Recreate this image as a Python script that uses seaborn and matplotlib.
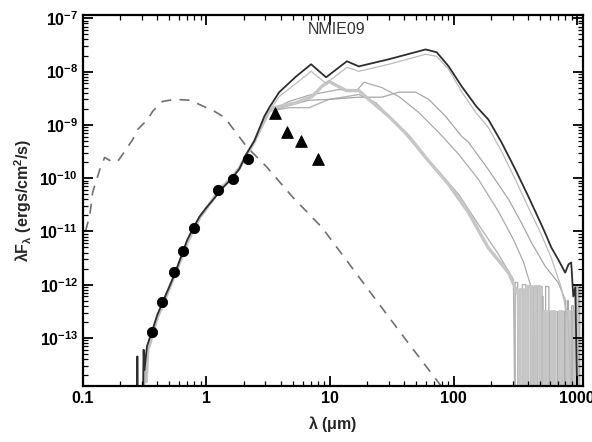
import numpy as np
import pandas as pd
import matplotlib
matplotlib.use("Agg")
import matplotlib.pyplot as plt
from matplotlib.ticker import LogLocator, NullFormatter
import seaborn as sns

# optical / near-IR photometry (circles) and IRAC photometry (triangles)
opt_lam = [0.36, 0.44, 0.55, 0.64, 0.79, 1.24, 1.63, 2.15]
opt_flux = [1.32e-13, 4.8e-13, 1.7e-12, 4.2e-12, 1.18e-11, 6.1e-11, 9.8e-11, 2.3e-10]
irac_lam = [3.6, 4.5, 5.8, 8.0]
irac_flux = [1.7e-9, 7.2e-10, 4.9e-10, 2.3e-10]

# stellar photosphere (dashed)
star_lam = [0.105, 0.114, 0.12, 0.137, 0.15, 0.171, 0.191, 0.21, 0.253, 0.278, 0.334,
            0.367, 0.442, 0.552, 0.73, 0.846, 1.16, 1.40, 2.14, 3.05, 4.94, 8.62,
            14.2, 24.8, 43.4, 75.7, 91.2]
star_flux = [1.0e-11, 2.07e-11, 5.4e-11, 1.45e-10, 2.44e-10, 2.05e-10, 2.05e-10, 2.8e-10,
             5.3e-10, 8.2e-10, 1.26e-9, 1.79e-9, 2.75e-9, 3.0e-9, 2.9e-9, 2.5e-9, 1.79e-9,
             1.38e-9, 3.76e-10, 1.65e-10, 4.5e-11, 1.18e-11, 2.5e-12, 4.4e-13, 7.8e-14,
             1.44e-14, 8e-15]

# best fitting model (dark line)
best_lam = [0.272, 0.276, 0.28, 0.305, 0.31, 0.315, 0.33, 0.36, 0.40, 0.45, 0.50, 0.56,
            0.63, 0.70, 0.785, 0.88, 1.0, 1.16, 1.32, 1.62, 1.85, 2.1, 2.44, 2.94, 3.22,
            3.88, 5.32, 7.03, 9.29, 13.7, 17.1, 29.9, 59.4, 73, 91.2, 116, 153, 191, 244,
            316, 403, 513, 560, 617, 703, 800, 850, 895, 930, 964, 1019]
best_flux = [1e-15, 4.5e-14, 1e-15, 1e-15, 6e-14, 2.5e-14, 7e-14, 1.26e-13, 2.7e-13,
             5.2e-13, 9.1e-13, 1.7e-12, 3.6e-12, 7.0e-12, 1.18e-11, 1.9e-11, 2.8e-11,
             4.2e-11, 6.2e-11, 1.0e-10, 1.5e-10, 2.8e-10, 5.0e-10, 1.44e-9, 2.1e-9,
             4.1e-9, 8.1e-9, 1.37e-8, 7.8e-9, 1.56e-8, 1.25e-8, 1.7e-8, 2.6e-8, 2.3e-8,
             1.25e-8, 5.3e-9, 2.2e-9, 1.26e-9, 4.7e-10, 1.45e-10, 4.5e-11, 1.34e-11,
             8.5e-12, 5.0e-12, 2.95e-12, 1.68e-12, 2.4e-12, 2.6e-12, 6.0e-13, 9e-13, 1e-15]

# optical rise shared by the other models
rise_lam = [0.30, 0.315, 0.325, 0.335, 0.35, 0.37, 0.40, 0.45, 0.50, 0.56, 0.63, 0.70,
            0.785, 0.88, 1.0, 1.16, 1.32, 1.62, 1.85, 2.1, 2.44, 2.83, 3.22]
rise_flux = [1e-15, 5e-14, 1.5e-14, 6e-14, 8e-14, 1.3e-13, 2.4e-13, 4.6e-13, 8.5e-13,
             1.6e-12, 3.3e-12, 6.2e-12, 1.05e-11, 1.8e-11, 2.7e-11, 4.4e-11, 6.5e-11,
             1.05e-10, 1.55e-10, 2.7e-10, 4.8e-10, 1.0e-9, 1.8e-9]

# infrared parts of the other models
m2_lam = [3.88, 5.32, 7.03, 9.29, 13.7, 17.1, 29.9, 59.4, 73, 91.2, 116, 153, 191, 244,
          316, 403, 513, 617, 743, 846, 929]
m2_flux = [3.4e-9, 6.0e-9, 1.01e-8, 6.0e-9, 1.2e-8, 1.01e-8, 1.37e-8, 2.11e-8, 1.93e-8,
           1.1e-8, 4.2e-9, 1.64e-9, 8.9e-10, 3.2e-10, 9.4e-11, 2.8e-11, 8.7e-12, 3.2e-12,
           8.8e-13, 2.2e-13, 1e-15]

m3_lam = [4.67, 6.77, 11.8, 16.2, 18.8, 26.3, 36.0, 52.2, 75.7, 110, 159, 231, 305, 367, 418]
m3_flux = [2.75e-9, 3.6e-9, 4.6e-9, 4.2e-9, 6.3e-9, 5.0e-9, 3.4e-9, 1.71e-9, 7.2e-10,
           2.8e-10, 9.4e-11, 2.35e-11, 7.0e-12, 2.7e-12, 1.0e-12]

m4_lam = [4.67, 6.77, 9.82, 17.1, 26.3, 36.0, 49.4, 62.9, 86.2, 116, 132, 191, 278, 353,
          426, 552, 703, 800]
m4_flux = [2.3e-9, 2.9e-9, 3.0e-9, 3.3e-9, 3.3e-9, 4.1e-9, 4.1e-9, 3.0e-9, 1.44e-9,
           6.1e-10, 4.7e-10, 1.45e-10, 4.0e-11, 1.46e-11, 6.2e-12, 2.2e-12, 1.09e-12, 5.2e-13]

m5_lam = [3.54, 5.32, 7.16, 8.62, 9.82, 13.5, 17.1, 20.6, 29.9, 43.4, 59.4, 91.2, 132,
          191, 278, 334]
m5_flux = [2.1e-9, 2.6e-9, 3.4e-9, 5.3e-9, 6.5e-9, 4.4e-9, 4.4e-9, 3.0e-9, 1.44e-9,
           6.1e-10, 2.44e-10, 7.6e-11, 2.25e-11, 4.9e-12, 1.68e-12, 6.5e-13]

m6_lam = [4.67, 6.77, 9.82, 17.1, 23.5, 36.0, 52.2, 75.7, 110, 159, 231, 305]
m6_flux = [2.1e-9, 2.1e-9, 3.0e-9, 3.7e-9, 2.6e-9, 9.3e-10, 3.45e-10, 1.33e-10, 4.9e-11,
           1.34e-11, 3.7e-12, 1.24e-12]

# noisy far-IR ends: each tooth goes up at lo, stays at height, comes down at hi
m5_tooth_lo = [345, 400, 460, 540, 620, 720, 830, 950]
m5_tooth_hi = [370, 430, 500, 570, 660, 760, 870, 1000]
m5_tooth_h = [8e-13, 9.2e-13, 9.2e-13, 3.1e-13, 3.1e-13, 3.1e-13, 3.1e-13, 3.1e-13]
m3_tooth_lo = [425, 480, 555, 640, 740, 850, 990]
m3_tooth_hi = [445, 520, 590, 690, 790, 900, 1050]
m3_tooth_h = [9e-13, 9.2e-13, 9.2e-13, 3.1e-13, 3.1e-13, 3.1e-13, 1.0e-12]
m6_tooth_lo = [315, 360, 430, 510, 600, 700, 800, 920]
m6_tooth_hi = [330, 385, 450, 530, 615, 720, 815, 940]
m6_tooth_h = [1.1e-12, 1.0e-12, 9.2e-13, 6e-13, 3.1e-13, 3.1e-13, 3.1e-13, 3.1e-13]
m4_tooth_lo = [830, 900, 980]
m4_tooth_hi = [850, 930, 1020]
m4_tooth_h = [5e-13, 4e-13, 9e-13]

floor = 1e-15

x_ticks = [0.1, 1, 10, 100, 1000]
x_ticklabels = ["0.1", "1", "10", "100", "1000"]
y_ticks = [1e-13, 1e-12, 1e-11, 1e-10, 1e-9, 1e-8, 1e-7]
y_ticklabels = [r"$10^{-13}$", r"$10^{-12}$", r"$10^{-11}$", r"$10^{-10}$",
                r"$10^{-9}$", r"$10^{-8}$", r"$10^{-7}$"]


def model_frame(lam, flux, lo=(), hi=(), h=()):
    xs = list(rise_lam) + list(lam)
    ys = list(rise_flux) + list(flux)
    for a, b, c in zip(lo, hi, h):
        xs += [a, a, b, b]
        ys += [floor, c, c, floor]
    return pd.DataFrame({"lam": xs, "flux": ys})


sns.set_style("white")
plt.rcParams["font.family"] = ["Liberation Sans", "DejaVu Sans"]
plt.rcParams["mathtext.fontset"] = "custom"
plt.rcParams["mathtext.rm"] = "Liberation Sans:bold"
plt.rcParams["mathtext.it"] = "Liberation Sans:bold"
plt.rcParams["mathtext.bf"] = "Liberation Sans:bold"
plt.rcParams["mathtext.default"] = "bf"
for a in ("xtick", "ytick"):
    plt.rcParams[a + ".direction"] = "in"
    plt.rcParams[a + ".color"] = "black"
    plt.rcParams[a + ".major.size"] = 7
    plt.rcParams[a + ".minor.size"] = 3.5
    plt.rcParams[a + ".major.width"] = 1.3
    plt.rcParams[a + ".minor.width"] = 0.9
    plt.rcParams[a + ".labelsize"] = 11.5
plt.rcParams["xtick.bottom"] = True
plt.rcParams["xtick.top"] = True
plt.rcParams["ytick.left"] = True
plt.rcParams["ytick.right"] = True

fig = plt.figure(figsize=(5.92, 4.42), dpi=100)
ax = fig.add_axes([0.140, 0.127, 0.845, 0.839])

models = [
    (model_frame(m6_lam, m6_flux, m6_tooth_lo, m6_tooth_hi, m6_tooth_h), "#b4b4b4", 1.0),
    (model_frame(m4_lam, m4_flux, m4_tooth_lo, m4_tooth_hi, m4_tooth_h), "#a6a6a6", 0.9),
    (model_frame(m3_lam, m3_flux, m3_tooth_lo, m3_tooth_hi, m3_tooth_h), "#ababab", 0.9),
    (model_frame(m5_lam, m5_flux, m5_tooth_lo, m5_tooth_hi, m5_tooth_h), "#c6c6c6", 2.4),
    (model_frame(m2_lam, m2_flux), "#bcbcbc", 0.9),
]
for df, col, lw in models:
    sns.lineplot(data=df, x="lam", y="flux", ax=ax, color=col, lw=lw,
                 sort=False, estimator=None)

best = pd.DataFrame({"lam": best_lam, "flux": best_flux})
sns.lineplot(data=best, x="lam", y="flux", ax=ax, color="#2e2e2e", lw=1.3,
             sort=False, estimator=None)

star = pd.DataFrame({"lam": star_lam, "flux": star_flux})
sns.lineplot(data=star, x="lam", y="flux", ax=ax, color="#707070", lw=1.2,
             sort=False, estimator=None, dashes=False, linestyle=(0, (6, 5)))

sns.scatterplot(x=opt_lam, y=opt_flux, ax=ax, color="black", s=55, marker="o",
                edgecolor="black", zorder=5)
sns.scatterplot(x=irac_lam, y=irac_flux, ax=ax, color="black", s=70, marker="^",
                edgecolor="black", zorder=5)

ax.set_xscale("log")
ax.set_yscale("log")
ax.set_xlim(0.1, 1117)
ax.set_ylim(1.26e-14, 1.15e-7)

ax.set_xticks(x_ticks)
ax.set_xticklabels(x_ticklabels, fontweight="bold")
ax.set_yticks(y_ticks)
ax.set_yticklabels(y_ticklabels)
ax.xaxis.set_minor_locator(LogLocator(base=10, subs=np.arange(2, 10), numticks=100))
ax.yaxis.set_minor_locator(LogLocator(base=10, subs=np.arange(2, 10), numticks=100))
ax.xaxis.set_minor_formatter(NullFormatter())
ax.yaxis.set_minor_formatter(NullFormatter())
for sp in ax.spines.values():
    sp.set_linewidth(1.6)
    sp.set_color("black")

ax.set_xlabel(r"$\lambda$ ($\mu$m)", fontsize=11.5, fontweight="bold", labelpad=6)
ax.set_ylabel(r"$\lambda F_\lambda$ (ergs/cm$^2$/s)", fontsize=11.5, fontweight="bold",
              labelpad=4)
ax.text(0.508, 0.962, "NMIE09", transform=ax.transAxes, ha="center", va="center",
        fontsize=11.5, color="#333333")

# ticks set last, on every side
ax.tick_params(which="both", direction="in", bottom=True, left=True, top=True,
               right=True, color="black")
ax.tick_params(which="major", length=7, width=1.3)
ax.tick_params(which="minor", length=3.5, width=0.9)
ax.set_axisbelow(False)

fig.savefig("out.png", dpi=100)
